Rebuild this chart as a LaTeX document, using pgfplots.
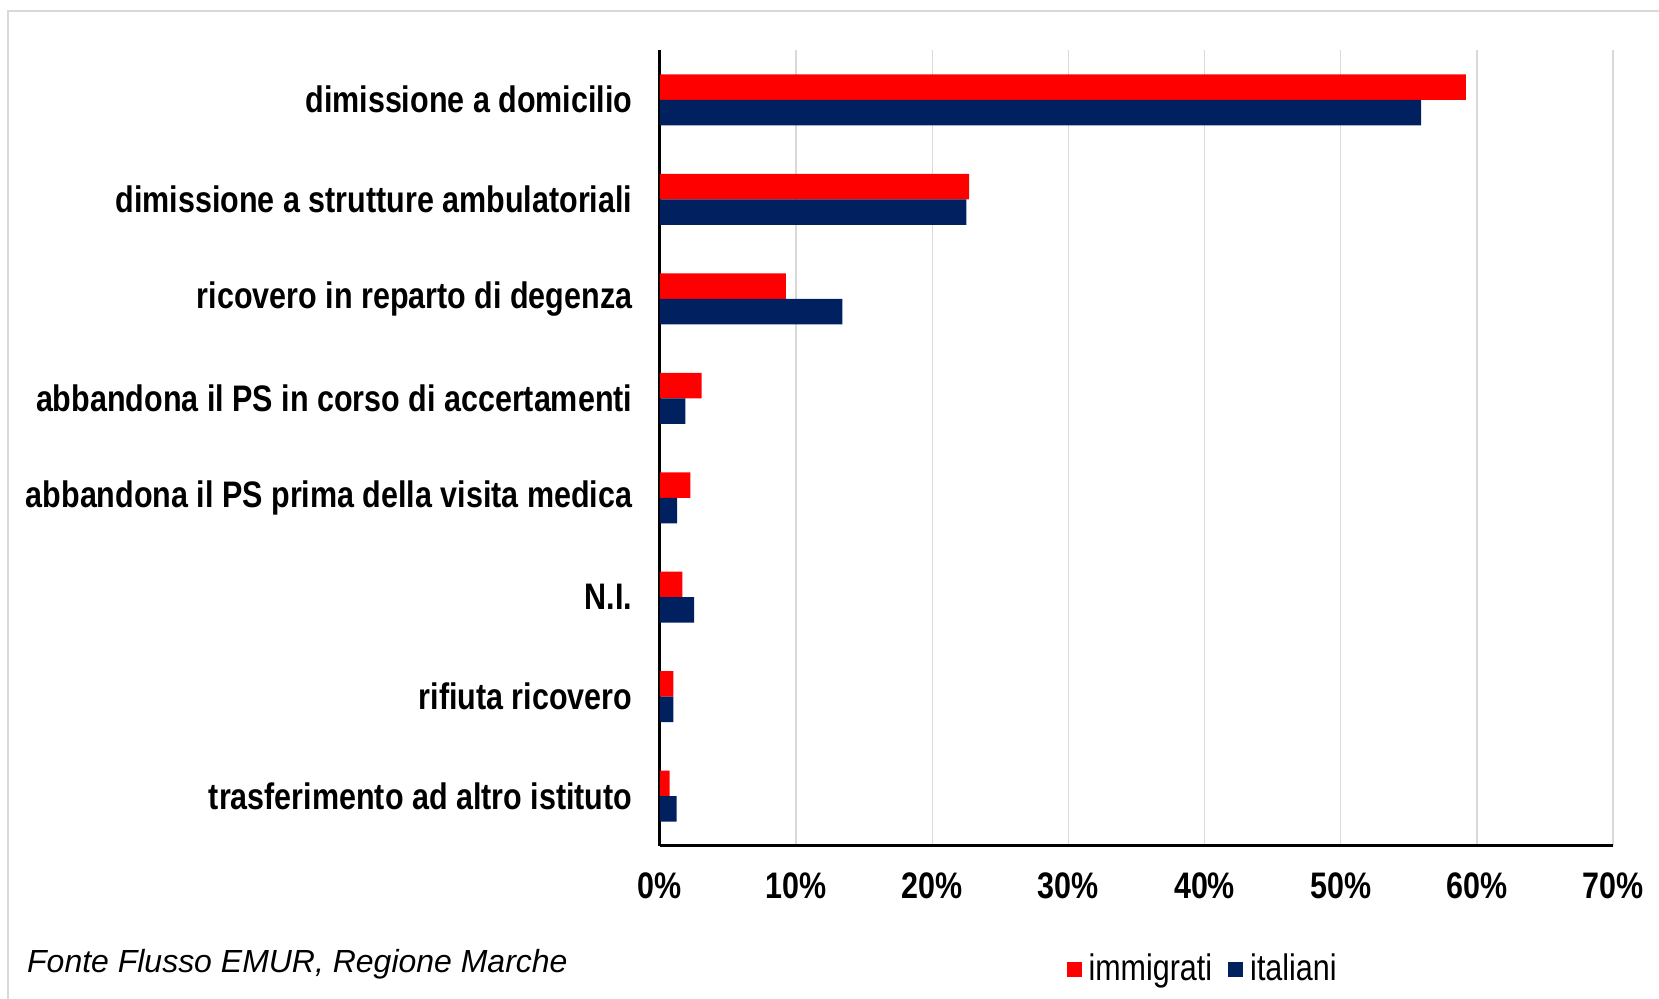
\documentclass[border=0pt]{standalone}
\usepackage{pgfplots}
\pgfplotsset{compat=1.18}
\usepackage{fontspec}
\setmainfont{Liberation Sans}
\newfontfamily\narrow[FakeStretch=0.826]{Liberation Sans}
\definecolor{imm}{HTML}{FF0000}
\definecolor{ita}{HTML}{002060}
\definecolor{framec}{HTML}{D9D9D9}

\pgfplotstableread{
idx imm ita
7 59.2 55.9
6 22.7 22.5
5 9.25 13.4
4 3.05 1.86
3 2.23 1.25
2 1.64 2.5
1 0.98 0.98
0 0.71 1.22
}\datatab

\begin{document}
\begin{tikzpicture}
\path[use as bounding box] (0,0) rectangle (16.59,9.99);
\draw[framec, line width=0.25mm] (0.08,0) -- (0.08,9.88) -- (16.59,9.88);
\begin{axis}[
  at={(6.60cm,1.53cm)}, anchor=south west,
  scale only axis, width=9.53cm, height=7.96cm,
  xmin=0, xmax=70, ymin=-0.5, ymax=7.5,
  xbar, bar width=2.55mm,
  xtick={0,10,...,70},
  /pgf/number format/assume math mode=true,
  xticklabel={\pgfmathprintnumber{\tick}\%},
  ytick={0,...,7},
  yticklabels={trasferimento ad altro istituto, rifiuta ricovero, N.I., abbandona il PS prima della visita medica, abbandona il PS in corso di accertamenti\hspace{0.85mm}, ricovero in reparto di degenza, dimissione a strutture ambulatoriali, dimissione a domicilio},
  major tick length=0pt,
  axis x line*=bottom, axis y line*=left,
  axis line style={-, line width=0.3mm, black},
  xmajorgrids, major grid style={framec, line width=0.15mm},
  tick label style={font=\fontsize{10.5}{12}\selectfont\narrow\bfseries},
  xticklabel style={anchor=center, yshift=-4mm},
  yticklabel style={anchor=east, inner sep=0pt, xshift=-2.7mm},
  legend columns=2,
  legend style={at={(rel axis cs:0.572,-0.155)}, anchor=center, draw=none, fill=none,
    font=\fontsize{10.5}{12}\selectfont\narrow,
    /tikz/every even column/.append style={column sep=0.9mm}},
  legend image code/.code={\fill[#1] (0cm,-0.75mm) rectangle (1.5mm,0.75mm);},
]
\addplot[fill=imm, draw=none, bar shift=1.275mm] table[x=imm, y=idx] {\datatab};
\addplot[fill=ita, draw=none, bar shift=-1.275mm] table[x=ita, y=idx] {\datatab};
\legend{immigrati, italiani}
\end{axis}
\node[anchor=west, inner sep=0pt, font=\fontsize{9.1}{11}\selectfont\itshape] at (0.265,0.35) {Fonte Flusso EMUR, Regione Marche};
\end{tikzpicture}
\end{document}
